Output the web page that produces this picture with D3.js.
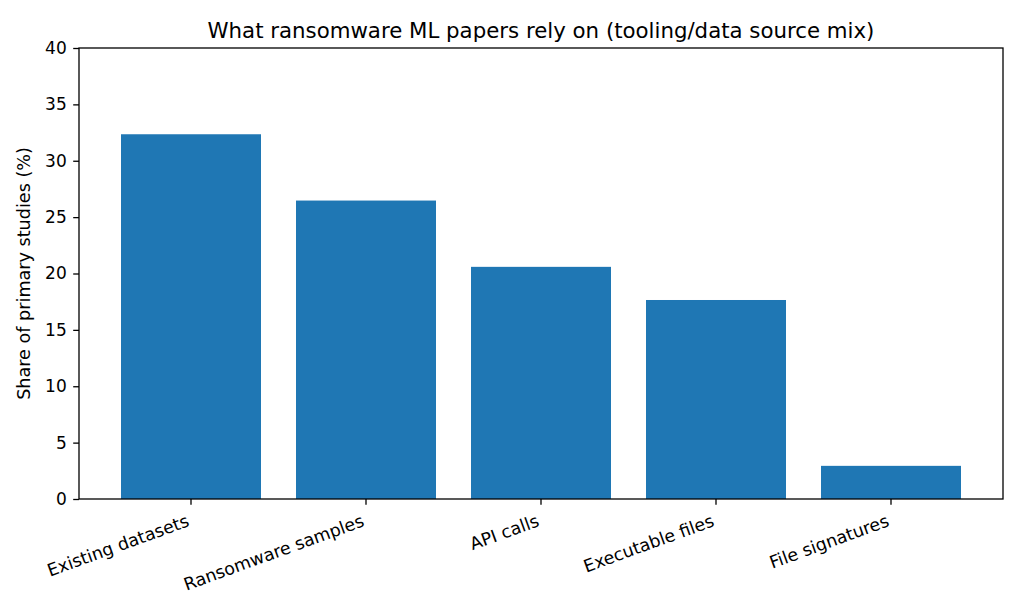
<!DOCTYPE html>
<html><head><meta charset="utf-8">
<script src="https://cdn.jsdelivr.net/npm/d3@7"></script>
<style>body{margin:0;background:#fff}svg text{font-family:"DejaVu Sans",sans-serif;fill:#000}</style>
</head><body>
<svg id="c" width="1023" height="614"></svg>
<script>
const categories = ["Existing datasets","Ransomware samples","API calls","Executable files","File signatures"];
const shares = [32.35, 26.47, 20.59, 17.65, 2.94];
const yTicks = [0,5,10,15,20,25,30,35,40];
const title = "What ransomware ML papers rely on (tooling/data source mix)";
const yLabel = "Share of primary studies (%)";

const svg = d3.select("#c");
const L=79, R=1003, T=48, B=499;
const TF = 17.4;
const x = d3.scaleBand().domain(categories).range([L,R]).paddingInner(0.2).paddingOuter(0.24);
const y = d3.scaleLinear().domain([0,40]).range([B,T]);

svg.append("g").selectAll("rect").data(categories).join("rect")
  .attr("x", d=>x(d)).attr("width", x.bandwidth())
  .attr("y", (d,i)=>y(shares[i])).attr("height",(d,i)=>B-y(shares[i]))
  .attr("fill","#1f77b4");

const ya = svg.append("g").attr("transform",`translate(${L},0)`)
  .call(d3.axisLeft(y).tickValues(yTicks).tickSize(5.8).tickPadding(6.5));
ya.select(".domain").remove();
ya.selectAll("text").style("font-size","17px");
ya.selectAll("line").attr("stroke","#000").attr("stroke-width",1.3);

const xa = svg.append("g").attr("transform",`translate(0,${B})`)
  .call(d3.axisBottom(x).tickSize(5.8).tickPadding(8.5));
xa.select(".domain").remove();
xa.selectAll("line").attr("stroke","#000").attr("stroke-width",1.3);
const sh = -0.34*TF*0.9;
xa.selectAll("text").style("font-size",TF+"px")
  .attr("text-anchor","end").attr("dy","0.76em")
  .attr("transform", function(){ const yy=+this.getAttribute("y"); return `translate(${sh},${yy}) rotate(-20) translate(0,${-yy})`; });

svg.append("rect").attr("x",L).attr("y",T).attr("width",R-L).attr("height",B-T)
  .attr("fill","none").attr("stroke","#000").attr("stroke-width",1.3);

svg.append("text").attr("x",(L+R)/2).attr("y",38).attr("text-anchor","middle")
  .style("font-size","21.3px").text(title);
svg.append("text").attr("transform",`translate(30,${(T+B)/2}) rotate(-90)`)
  .attr("text-anchor","middle").style("font-size","17.6px").text(yLabel);
</script>
</body></html>
